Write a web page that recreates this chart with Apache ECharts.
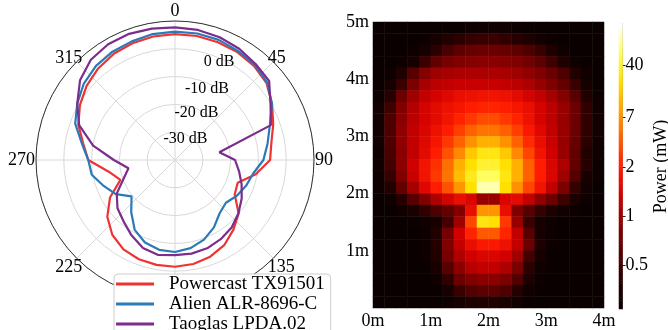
<!DOCTYPE html>
<html><head><meta charset="utf-8">
<script src="https://cdn.jsdelivr.net/npm/echarts@6/dist/echarts.min.js"></script>
<style>html,body{margin:0;padding:0;background:#fff}#c{width:668px;height:330px}</style>
</head><body><div id="c"></div>
<script>
// ---- polar antenna patterns (dB vs angle in degrees, clockwise from top) ----
const angles = [0,10,20,30,40,50,60,70,80,90,100,110,120,130,140,150,160,170,180,190,200,210,220,230,240,250,260,270,280,290,300,310,320,330,340,350];
const powercast = [5.3,5.3,5.1,4.8,4.2,3.0,0.3,-2.4,-4.8,-5.8,-10.5,-16.0,-15.2,-10.1,-7.3,-4.6,-3.0,-2.0,-1.6,-1.7,-2.0,-2.9,-4.9,-8.2,-13.0,-19.1,-15.8,-8.8,-6.5,-3.0,-0.5,1.5,3.0,4.1,4.7,5.1];
const alien     = [6.2,6.2,6.0,5.3,4.7,3.3,0.3,-3.7,-6.2,-8.2,-11.5,-12.8,-14.3,-16.1,-15.0,-12.0,-9.5,-7.8,-6.9,-7.2,-8.4,-11.0,-15.5,-19.6,-15.4,-12.7,-9.6,-8.8,-6.0,-1.8,0.6,2.8,4.2,5.0,5.4,6.0];
const taoglas   = [7.7,7.5,7.0,6.2,5.1,4.2,-0.3,-3.3,-23.8,-18.4,-16.6,-14.5,-12.3,-10.2,-8.3,-7.1,-6.2,-5.8,-5.8,-5.3,-6.3,-8.7,-11.2,-13.0,-15.8,-20.3,-23.0,-18.0,-10.1,-3.3,0.6,4.6,7.1,8.1,8.3,8.0];
const seriesNames = ['Powercast TX91501','Alien ALR-8696-C','Taoglas LPDA.02'];
const seriesColors = ['#ee3333','#2a7ab8','#7b2d8c'];
const radiusTickValues = [-30,-20,-10,0];

// ---- heatmap (cell centres in m; values in colour-bar units 0..100) ----
const heatX = ['0.1','0.3','0.5','0.7','0.9','1.1','1.3','1.5','1.7','1.9','2.1','2.3','2.5','2.7','2.9','3.1','3.3','3.5','3.7','3.9'];
const heatY = ['0.1','0.3','0.5','0.7','0.9','1.1','1.3','1.5','1.7','1.9','2.1','2.3','2.5','2.7','2.9','3.1','3.3','3.5','3.7','3.9','4.1','4.3','4.5','4.7','4.9'];
// rows listed from top (y = 4.9 m) to bottom (y = 0.1 m)
const heatRows = [
 [0,0,0,0,0,0,0,0,1,2,2,2,1,0,0,0,0,0,0,0],
 [0,0,0,0,1,4,8,11,13,14,14,12,10,7,3,1,0,0,0,0],
 [0,0,0,1,4,11,17,21,23,24,24,23,21,18,14,7,2,0,0,0],
 [0,0,1,5,14,22,26,28,29,30,30,29,28,25,21,15,7,2,0,0],
 [0,1,8,20,29,33,34,35,35,35,35,34,33,31,28,24,18,9,2,0],
 [0,4,14,27,34,37,38,39,39,39,39,38,37,35,32,28,22,14,4,0],
 [1,10,24,33,38,41,43,45,46,47,47,46,44,41,38,34,29,20,8,1],
 [3,15,28,36,41,44,46,48,50,51,51,50,48,45,41,37,32,24,12,2],
 [3,18,30,37,41,44,47,51,54,57,57,54,51,46,41,37,32,24,12,3],
 [3,18,31,38,42,46,50,55,60,63,63,60,55,49,43,38,32,24,12,3],
 [3,18,31,38,43,48,54,60,67,72,72,67,60,52,45,39,32,23,11,2],
 [2,17,30,38,44,50,58,66,76,82,82,76,66,56,47,40,32,22,9,2],
 [2,16,30,40,47,53,62,72,80,85,85,80,72,60,50,42,35,22,10,1],
 [1,13,28,39,47,54,63,74,83,90,90,82,72,60,50,42,33,19,5,1],
 [1,8,22,34,43,50,58,68,80,95,95,80,67,56,47,38,27,13,3,0],
 [0,2,10,20,28,35,41,45,42,32,32,42,44,38,31,24,15,6,1,0],
 [0,0,2,6,12,18,22,28,45,68,68,45,28,20,13,7,3,1,0,0],
 [0,0,0,1,2,5,16,33,56,82,80,54,32,14,4,1,0,0,0,0],
 [0,0,0,0,1,8,26,40,51,59,59,51,38,20,5,1,0,0,0,0],
 [0,0,0,0,1,10,28,38,45,49,49,46,38,24,7,1,0,0,0,0],
 [0,0,0,0,1,8,26,35,40,42,42,40,33,16,4,0,0,0,0,0],
 [0,0,0,0,0,5,20,30,36,38,38,35,27,11,2,0,0,0,0,0],
 [0,0,0,0,0,2,12,24,28,30,30,27,19,7,1,0,0,0,0,0],
 [0,0,0,0,0,0,4,14,19,21,21,18,10,2,0,0,0,0,0,0],
 [0,0,0,0,0,0,1,4,7,8,8,6,3,0,0,0,0,0,0,0]
];
const xTickValues = [0,1,2,3,4];
const yTickValues = [1,2,3,4,5];
const cbTickLabels = ['0.5','1','2','7','40'];
const cbTickPos = [15.4,32.6,49.6,67.2,85.6];
const hotColors = ['#0b0000','#260000','#580000','#8a0000','#d00000','#ff1c00','#ff6000','#ffa400','#ffe000','#ffff60','#ffffff'];

const FONT = 'Liberation Serif';
const chart = echarts.init(document.getElementById('c'));

const heatData = [];
heatRows.forEach((row, r) => row.forEach((v, c) => heatData.push([c, heatRows.length - 1 - r, v])));

// colour bar: one cell per colour-bar level (0..100 scale)
const cbSteps = 100;
const cbCats = [], cbData = [];
for (let k = 0; k < cbSteps; k++) { cbCats.push(String(k)); cbData.push([0, k, (k + 0.5) * 100 / cbSteps]); }

const polarSeries = [powercast, alien, taoglas].map((vals, k) => ({
  type: 'line', coordinateSystem: 'polar', name: seriesNames[k],
  data: angles.map((a, i) => [vals[i], a]).concat([[vals[0], 360]]),
  symbol: 'none', lineStyle: { width: 2.2, color: seriesColors[k] }, itemStyle: { color: seriesColors[k] },
  z: 3
}));

const radiusRich = {};
const pads = [[14,0,0,21],[16,0,0,43],[25,0,0,64],[25,0,0,88]];
radiusTickValues.forEach((v, i) => { radiusRich['r' + i] = { padding: pads[i], fontFamily: FONT, fontSize: 16, color: '#000' }; });

const angleRich = {
  t: { padding: [0, 0, 9, 0] },   // top label
  r: { padding: [0, 0, 0, 9] },   // right label
  l: { padding: [0, 9, 0, 0] },   // left label
  d: { padding: [6, 0, 0, 0] },   // lower diagonal labels
  u: { padding: [0, 0, 0, 0] }    // upper diagonal labels
};
const angleStyleKey = { 0: 't', 45: 'u', 90: 'r', 135: 'd', 225: 'd', 270: 'l', 315: 'u' };
Object.keys(angleRich).forEach(k => Object.assign(angleRich[k], { fontFamily: FONT, fontSize: 18, color: '#000' }));

chart.setOption({
  animation: false,
  textStyle: { fontFamily: FONT },
  polar: { center: [175, 160], radius: 139 },
  angleAxis: {
    type: 'value', min: 0, max: 360, interval: 45, startAngle: 90, clockwise: true,
    axisLine: { show: true, lineStyle: { color: '#333', width: 1 } },
    axisTick: { show: false },
    splitLine: { show: true, lineStyle: { color: '#d8d8d8', width: 1 } },
    axisLabel: { margin: -8, fontFamily: FONT, fontSize: 18, color: '#000', rich: angleRich,
      formatter: v => angleStyleKey[v] ? '{' + angleStyleKey[v] + '|' + v + '}' : '' }
  },
  radiusAxis: {
    type: 'value', min: -40, max: 10, interval: 10,
    axisLine: { show: false }, axisTick: { show: false },
    splitLine: { show: true, lineStyle: { color: '#d8d8d8', width: 1 } },
    axisLabel: { margin: 0, align: 'center', verticalAlign: 'middle', fontFamily: FONT, fontSize: 16, color: '#000',
      rich: radiusRich,
      formatter: v => { const i = radiusTickValues.indexOf(v); return i < 0 ? '' : '{r' + i + '|' + v + ' dB}'; } }
  },
  legend: {
    orient: 'vertical', left: 114, top: 274, height: 100, data: seriesNames, icon: 'rect',
    itemWidth: 38, itemHeight: 3, itemGap: 0,
    backgroundColor: '#fff', borderColor: '#cccccc', borderWidth: 1, borderRadius: 4,
    padding: [0, 6, 20, 2],
    textStyle: { fontFamily: FONT, fontSize: 19, color: '#000', lineHeight: 20, padding: [0, 0, 0, 10] }
  },
  grid: [
    { left: 373, top: 22, width: 231, height: 287 },
    { left: 619, top: 24, width: 14, height: 285 }
  ],
  xAxis: [
    { type: 'category', gridIndex: 0, data: heatX, show: false, position: 'top' },
    { type: 'value', gridIndex: 0, min: 0, max: 4, interval: 1, position: 'bottom',
      axisLine: { show: false }, axisTick: { show: false }, splitLine: { show: false },
      axisLabel: { margin: 4, fontFamily: FONT, fontSize: 18, color: '#000', customValues: xTickValues, formatter: v => v + 'm' } },
    { type: 'category', gridIndex: 1, data: ['0'], show: false }
  ],
  yAxis: [
    { type: 'category', gridIndex: 0, data: heatY, show: false, position: 'right' },
    { type: 'value', gridIndex: 0, min: 0, max: 5, interval: 1, position: 'left',
      axisLine: { show: false }, axisTick: { show: false }, splitLine: { show: false },
      axisLabel: { margin: 4, fontFamily: FONT, fontSize: 18, color: '#000', customValues: yTickValues, formatter: v => v + 'm' } },
    { type: 'category', gridIndex: 1, data: cbCats, show: false, position: 'left' },
    { type: 'value', gridIndex: 1, min: 0, max: 100, position: 'right',
      axisLine: { show: true, lineStyle: { color: '#999', width: 1 } },
      axisTick: { show: true, length: 3, customValues: cbTickPos, lineStyle: { color: '#222' } },
      splitLine: { show: false },
      axisLabel: { margin: 3, fontFamily: FONT, fontSize: 18, color: '#000', customValues: cbTickPos,
        formatter: v => { const i = cbTickPos.indexOf(v); return i < 0 ? '' : cbTickLabels[i]; } },
      name: 'Power (mW)', nameLocation: 'middle', nameRotate: 90, nameGap: 24,
      nameTextStyle: { fontFamily: FONT, fontSize: 18, color: '#000' } }
  ],
  visualMap: {
    type: 'continuous', show: false, min: 0, max: 100, dimension: 2, seriesIndex: [3, 4],
    inRange: { color: hotColors }
  },
  series: polarSeries.concat([
    { type: 'heatmap', xAxisIndex: 0, yAxisIndex: 0, data: heatData, emphasis: { disabled: true } },
    { type: 'heatmap', xAxisIndex: 2, yAxisIndex: 2, data: cbData, emphasis: { disabled: true } }
  ])
});
</script></body></html>
